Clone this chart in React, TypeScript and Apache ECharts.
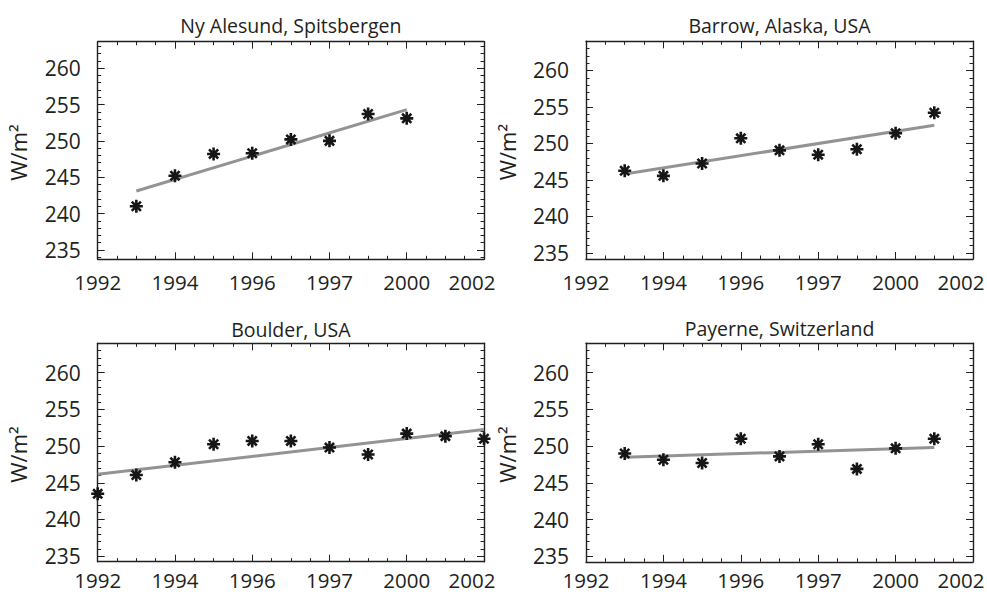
import React, { useEffect, useRef } from 'react';
import * as echarts from 'echarts';

const xTickLabels = ['1992', '1994', '1996', '1997', '2000', '2002'];
const panelTitles = ['Ny Alesund, Spitsbergen', 'Barrow, Alaska, USA', 'Boulder, USA', 'Payerne, Switzerland'];
const yAxisName = 'W/m²';

const yMajorTicks = [235, 240, 245, 250, 255, 260];
const yMinorTicks = [234, 236, 237, 238, 239, 241, 242, 243, 244, 246, 247, 248, 249, 251, 252, 253, 254, 256, 257, 258, 259, 261, 262, 263];

const nyX = [1, 2, 3, 4, 5, 6, 7, 8];
const nyY = [241.0, 245.2, 248.2, 248.3, 250.2, 250.0, 253.7, 253.1];
const nyTrendX = [1, 8];
const nyTrendY = [243.1, 254.3];

const barrowX = [1, 2, 3, 4, 5, 6, 7, 8, 9];
const barrowY = [246.25, 245.55, 247.25, 250.7, 249.05, 248.45, 249.2, 251.4, 254.2];
const barrowTrendX = [1, 9];
const barrowTrendY = [245.8, 252.5];

const boulderX = [0, 1, 2, 3, 4, 5, 6, 7, 8, 9, 10];
const boulderY = [243.5, 246.05, 247.8, 250.25, 250.7, 250.7, 249.8, 248.85, 251.7, 251.35, 251.0];
const boulderTrendX = [0, 10];
const boulderTrendY = [246.15, 252.25];

const payerneX = [1, 2, 3, 4, 5, 6, 7, 8, 9];
const payerneY = [249.0, 248.15, 247.7, 251.0, 248.6, 250.25, 246.9, 249.7, 251.0];
const payerneTrendX = [1, 9];
const payerneTrendY = [248.5, 249.8];

const FONT = '"Open Sans", "Noto Sans", sans-serif';
const TEXT = '#231f20';
const AXIS = '#231f20';

const ASTERISK =
  'path://M8 0L12 0L12 20L8 20Z M0 8L20 8L20 12L0 12Z ' +
  'M4.36 1.53L18.47 15.64L15.64 18.47L1.53 4.36Z M15.64 1.53L18.47 4.36L4.36 18.47L1.53 15.64Z';

const layout = [
  { left: 97.7, top: 41.7, width: 386.3, height: 217.6, ymin: 233.7, ymax: 263.65, titleY: 25, nameX: 18, labelMargin: 14.5 },
  { left: 586, top: 41.3, width: 387, height: 217.7, ymin: 234.15, ymax: 264.0, titleY: 25, nameX: 507, labelMargin: 14.5 },
  { left: 97.7, top: 343.3, width: 386.3, height: 218.4, ymin: 234.25, ymax: 264.0, titleY: 329, nameX: 18, labelMargin: 10 },
  { left: 586, top: 343.3, width: 387, height: 218.5, ymin: 234.25, ymax: 264.0, titleY: 328.5, nameX: 507, labelMargin: 10 },
];

const zip = (xs: number[], ys: number[]) => xs.map((x, i) => [x, ys[i]]);

const panelData = [
  { pts: zip(nyX, nyY), trend: zip(nyTrendX, nyTrendY) },
  { pts: zip(barrowX, barrowY), trend: zip(barrowTrendX, barrowTrendY) },
  { pts: zip(boulderX, boulderY), trend: zip(boulderTrendX, boulderTrendY) },
  { pts: zip(payerneX, payerneY), trend: zip(payerneTrendX, payerneTrendY) },
];

function buildOption() {
  const grid: any[] = [];
  const xAxis: any[] = [];
  const yAxis: any[] = [];
  const series: any[] = [];
  const graphic: any[] = [];
  const LABEL_SIZE = 20.5;

  layout.forEach((p, i) => {
    grid.push({ left: p.left, top: p.top, width: p.width, height: p.height, containLabel: false, outerBoundsMode: 'none' });
    const xBase = {
      type: 'value',
      gridIndex: i,
      min: 0,
      max: 10,
      interval: 2,
      splitLine: { show: false },
      minorSplitLine: { show: false },
      axisLine: { show: true, lineStyle: { color: AXIS, width: 1.4 } },
      axisTick: { show: true, inside: true, length: 7, lineStyle: { color: AXIS, width: 1 } },
      minorTick: { show: true, splitNumber: 4, length: 3.5, lineStyle: { color: AXIS, width: 1 } },
    };
    xAxis.push({
      ...xBase,
      position: 'bottom',
      axisLabel: {
        show: true,
        margin: p.labelMargin,
        lineHeight: 16,
        fontSize: LABEL_SIZE,
        fontFamily: FONT,
        color: TEXT,
        formatter: (v: number) => {
          const idx = Math.round(v / 2);
          const t = xTickLabels[idx] ?? '';
          return idx === xTickLabels.length - 1 ? `{last|${t}}` : t;
        },
        rich: {
          last: { padding: [0, 24, 0, 0], fontSize: LABEL_SIZE, fontFamily: FONT, color: TEXT, lineHeight: 16 },
        },
      },
    });
    xAxis.push({ ...xBase, position: 'top', axisLabel: { show: false } });

    const yBase = {
      type: 'value',
      gridIndex: i,
      min: p.ymin,
      max: p.ymax,
      splitLine: { show: false },
    };
    yAxis.push({
      ...yBase,
      position: 'left',
      axisLine: { show: true, lineStyle: { color: AXIS, width: 1.4 } },
      axisTick: { show: true, inside: true, length: 7, customValues: yMajorTicks, lineStyle: { color: AXIS, width: 1 } },
      axisLabel: { show: true, customValues: yMajorTicks, margin: 17, fontSize: 21, fontFamily: FONT, color: TEXT },
    });
    yAxis.push({
      ...yBase,
      position: 'left',
      axisLine: { show: false },
      axisTick: { show: true, inside: true, length: 3.5, customValues: yMinorTicks, lineStyle: { color: AXIS, width: 1 } },
      axisLabel: { show: false },
    });
    yAxis.push({
      ...yBase,
      position: 'right',
      axisLine: { show: true, lineStyle: { color: AXIS, width: 1.4 } },
      axisTick: { show: true, inside: true, length: 7, customValues: yMajorTicks, lineStyle: { color: AXIS, width: 1 } },
      axisLabel: { show: false },
    });
    yAxis.push({
      ...yBase,
      position: 'right',
      axisLine: { show: false },
      axisTick: { show: true, inside: true, length: 3.5, customValues: yMinorTicks, lineStyle: { color: AXIS, width: 1 } },
      axisLabel: { show: false },
    });

    series.push({
      type: 'line',
      xAxisIndex: 2 * i,
      yAxisIndex: 4 * i,
      data: panelData[i].trend,
      symbol: 'none',
      showSymbol: false,
      lineStyle: { color: '#939393', width: 3 },
      z: 2,
      silent: true,
    });
    series.push({
      type: 'scatter',
      xAxisIndex: 2 * i,
      yAxisIndex: 4 * i,
      data: panelData[i].pts,
      symbol: ASTERISK,
      symbolSize: 13,
      itemStyle: { color: '#161616', opacity: 1 },
      z: 3,
      silent: true,
    });

    graphic.push({
      type: 'text',
      x: p.left + p.width / 2,
      y: p.titleY,
      style: {
        text: panelTitles[i],
        fontSize: 19.5,
        fontFamily: FONT,
        fill: TEXT,
        align: 'center',
        verticalAlign: 'middle',
        textAlign: 'center',
        textVerticalAlign: 'middle',
      },
    });
    graphic.push({
      type: 'text',
      x: p.nameX,
      y: p.top + p.height / 2 + 2,
      rotation: Math.PI / 2,
      style: {
        text: yAxisName,
        fontSize: 22,
        fontFamily: FONT,
        fill: TEXT,
        align: 'center',
        verticalAlign: 'middle',
        textAlign: 'center',
        textVerticalAlign: 'middle',
      },
    });
  });

  return {
    animation: false,
    backgroundColor: '#ffffff',
    grid,
    xAxis,
    yAxis,
    series,
    graphic,
  };
}

export default function App() {
  const ref = useRef<HTMLDivElement>(null);
  useEffect(() => {
    if (!ref.current) return;
    const chart = echarts.init(ref.current, null, { renderer: 'svg' });
    chart.setOption(buildOption() as any);
    return () => {
      chart.dispose();
    };
  }, []);
  return (
    <div
      ref={ref}
      style={{ position: 'fixed', left: 0, top: 0, width: 987, height: 594, background: '#fff' }}
    />
  );
}
